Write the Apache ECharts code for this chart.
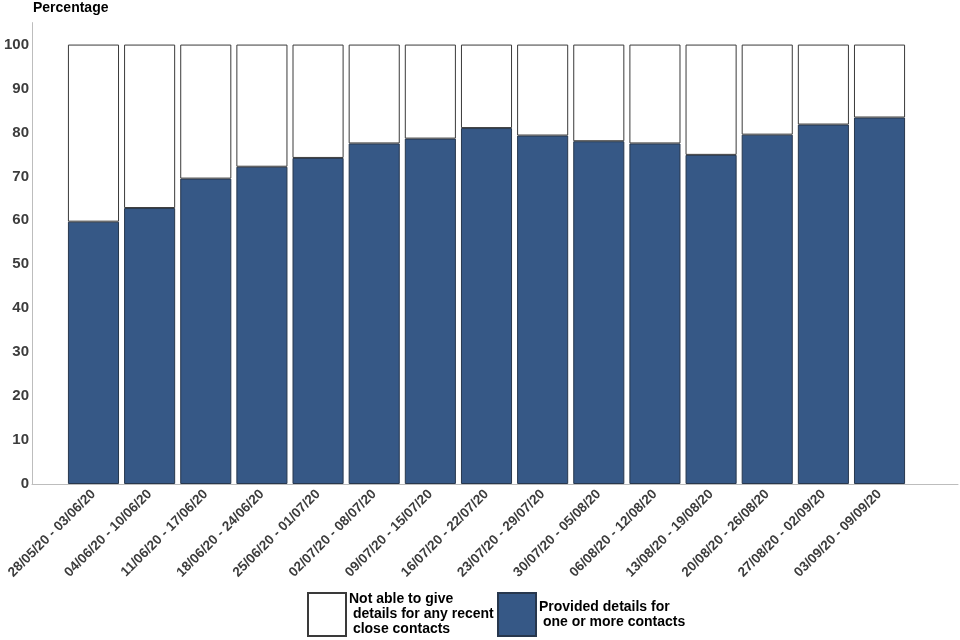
<!DOCTYPE html>
<html>
<head>
<meta charset="utf-8">
<script src="https://cdn.jsdelivr.net/npm/echarts@6/dist/echarts.min.js"></script>
<style>html,body{margin:0;padding:0;background:#fff}#c{width:960px;height:640px}</style>
</head>
<body>
<div id="c"></div>
<script>
var categories = ['28/05/20 - 03/06/20','04/06/20 - 10/06/20','11/06/20 - 17/06/20','18/06/20 - 24/06/20','25/06/20 - 01/07/20','02/07/20 - 08/07/20','09/07/20 - 15/07/20','16/07/20 - 22/07/20','23/07/20 - 29/07/20','30/07/20 - 05/08/20','06/08/20 - 12/08/20','13/08/20 - 19/08/20','20/08/20 - 26/08/20','27/08/20 - 02/09/20','03/09/20 - 09/09/20'];
var provided = [59.7, 62.8, 69.5, 72.2, 74.2, 77.5, 78.6, 81.0, 79.3, 78.0, 77.5, 74.9, 79.5, 81.8, 83.4];
var notAble = [40.3, 37.2, 30.5, 27.8, 25.8, 22.5, 21.4, 19.0, 20.7, 22.0, 22.5, 25.1, 20.5, 18.2, 16.6];
var yTicks = [0, 10, 20, 30, 40, 50, 60, 70, 80, 90, 100];
var nameNot = 'Not able to give\n details for any recent\n close contacts';
var nameProv = 'Provided details for\n one or more contacts';

var font = 'Liberation Sans, Arial, sans-serif';
var chart = echarts.init(document.getElementById('c'));
chart.setOption({
  animation: false,
  backgroundColor: '#ffffff',
  textStyle: {fontFamily: font},
  title: {
    text: 'Percentage', left: 28, top: -4,
    textStyle: {fontFamily: font, fontSize: 14, fontWeight: 'bold', color: '#000'}
  },
  grid: [
    {left: 32, right: 2, top: 22.6, bottom: 156},
    {left: 65.4, right: 52.4, top: 22.6, bottom: 156}
  ],
  xAxis: [
    {gridIndex: 0, type: 'category', data: [''], axisLine: {lineStyle: {color: '#bdbdbd', width: 1}},
     axisTick: {show: false}, axisLabel: {show: false}},
    {gridIndex: 1, type: 'category', data: categories, axisLine: {show: false}, axisTick: {show: false},
     axisLabel: {rotate: 45, interval: 0, margin: 8, fontFamily: font, fontSize: 13.5, fontWeight: 'bold', color: '#3c3c3c'}}
  ],
  yAxis: [
    {gridIndex: 0, type: 'value', min: 0, max: 105, interval: 10,
     axisLine: {show: true, lineStyle: {color: '#bdbdbd', width: 1}}, axisTick: {show: false},
     splitLine: {show: false},
     axisLabel: {margin: 3, fontFamily: font, fontSize: 15, fontWeight: 'bold', color: '#3c3c3c',
       formatter: function (v) { return yTicks.indexOf(v) >= 0 ? String(v) : ''; }}},
    {gridIndex: 1, type: 'value', min: 0, max: 105, show: false, splitLine: {show: false}}
  ],
  legend: [
    {data: [nameNot], left: 302, top: 587, itemWidth: 38, itemHeight: 43, itemGap: 4,
     icon: 'rect', textStyle: {fontFamily: font, fontSize: 14, fontWeight: 'bold', color: '#000', lineHeight: 15, padding: [0, 0, 0, -2]}},
    {data: [nameProv], left: 492, top: 587, itemWidth: 38, itemHeight: 43, itemGap: 4,
     icon: 'rect', textStyle: {fontFamily: font, fontSize: 14, fontWeight: 'bold', color: '#000', lineHeight: 15, padding: [0, 0, 0, -2]}}
  ],
  series: [
    {name: nameProv, type: 'bar', stack: 't', xAxisIndex: 1, yAxisIndex: 1, data: provided,
     barCategoryGap: '9%',
     itemStyle: {color: '#365886', borderColor: '#27374d', borderWidth: 1}},
    {name: nameNot, type: 'bar', stack: 't', xAxisIndex: 1, yAxisIndex: 1, data: notAble,
     barCategoryGap: '9%',
     itemStyle: {color: '#ffffff', borderColor: '#3a3a3a', borderWidth: 1}}
  ]
});
</script>
</body>
</html>
